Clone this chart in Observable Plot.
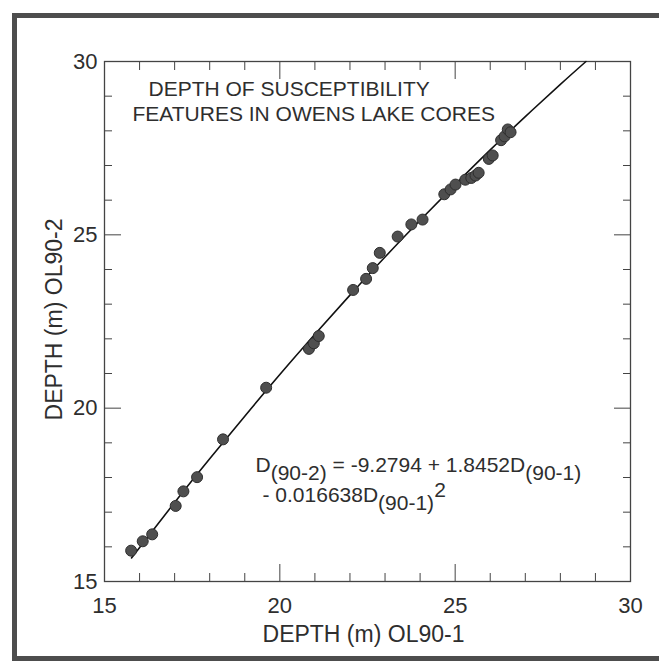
<!DOCTYPE html>
<html><head><meta charset="utf-8">
<script src="https://cdn.jsdelivr.net/npm/d3@7"></script>
<script src="https://cdn.jsdelivr.net/npm/@observablehq/plot@0.6"></script>
<style>
html,body{margin:0;padding:0;background:#fff;}
#wrap{position:relative;width:659px;height:671px;overflow:hidden;background:#fff;}
#chart{position:absolute;left:0;top:0;}
#border{position:absolute;left:12px;top:13px;width:700px;height:648px;border:5px solid #4d4d4d;box-sizing:border-box;pointer-events:none;}
</style></head><body><div id="wrap"><div id="chart"></div><div id="border"></div></div>
<script>
// Depth of susceptibility features: OL90-1 (x) vs OL90-2 (y), metres
const depth901 = [15.76,16.09,16.36,17.03,17.25,17.64,18.38,19.61,20.83,20.97,21.11,22.09,22.46,22.65,22.85,23.36,23.75,24.07,24.69,24.87,25.01,25.29,25.46,25.58,25.67,25.96,26.07,26.31,26.41,26.50,26.58];
const depth902 = [15.89,16.16,16.36,17.18,17.60,18.01,19.10,20.59,21.71,21.87,22.08,23.41,23.73,24.04,24.48,24.95,25.30,25.44,26.17,26.31,26.45,26.59,26.64,26.71,26.79,27.19,27.29,27.73,27.84,28.04,27.96];
// fitted curve
const fitX = [15.77,17,18,19,20,21,22,23,24,25,26,27,28,28.73];
const fitY = [15.68,17.28,18.54,19.77,20.97,22.13,23.26,24.36,25.42,26.45,27.45,28.41,29.34,30.00];
const majorTicks = [15,20,25,30];
const minorTicks = [16,17,18,19,21,22,23,24,26,27,28,29];
const titleLines = ["DEPTH OF SUSCEPTIBILITY","FEATURES IN OWENS LAKE CORES"];
const xTitle = "DEPTH (m) OL90-1";
const yTitle = "DEPTH (m) OL90-2";
const eqLine1 = [["D","base"],["(90-2)","sub"],[" = -9.2794 + 1.8452D","base"],["(90-1)","sub"]];
const eqLine2 = [["- 0.016638D","base"],["(90-1)","sub"],["2","sup"]];

const points = depth901.map((x,i)=>({x, y: depth902[i]}));
const fit = fitX.map((x,i)=>({x, y: fitY[i]}));
const ink = "#2e2e2e";
const axisInk = "#444";
const noLabel = () => "";

const plot = Plot.plot({
  width: 659, height: 671,
  marginLeft: 104, marginRight: 29, marginTop: 61, marginBottom: 90,
  x: {domain: [15,30]},
  y: {domain: [15,30]},
  style: {fontFamily: "'Liberation Sans', Arial, sans-serif", fontSize: "21px", color: ink, background: "transparent"},
  marks: [
    Plot.axisX(minorTicks, {anchor: "bottom", tickSize: -8, tickFormat: noLabel, label: null, stroke: axisInk}),
    Plot.axisX(majorTicks, {anchor: "bottom", tickSize: -17, tickFormat: noLabel, label: null, stroke: axisInk}),
    Plot.axisX(minorTicks, {anchor: "top", tickSize: -8, tickFormat: noLabel, label: null, stroke: axisInk}),
    Plot.axisX(majorTicks, {anchor: "top", tickSize: -17, tickFormat: noLabel, label: null, stroke: axisInk}),
    Plot.axisY(minorTicks, {anchor: "left", tickSize: -8, tickFormat: noLabel, label: null, stroke: axisInk}),
    Plot.axisY(majorTicks, {anchor: "left", tickSize: -17, tickFormat: noLabel, label: null, stroke: axisInk}),
    Plot.axisY(minorTicks, {anchor: "right", tickSize: -8, tickFormat: noLabel, label: null, stroke: axisInk}),
    Plot.axisY(majorTicks, {anchor: "right", tickSize: -17, tickFormat: noLabel, label: null, stroke: axisInk}),
    Plot.axisX(majorTicks, {anchor: "bottom", tickSize: 0, tickPadding: 16, label: null, fill: ink, fontSize: 22}),
    Plot.axisY(majorTicks, {anchor: "left", tickSize: 0, tickPadding: 7, label: null, fill: ink, fontSize: 22}),
    Plot.frame({stroke: axisInk, strokeWidth: 1.3}),
    Plot.line(fit, {x: "x", y: "y", curve: "natural", stroke: "#111", strokeWidth: 1.6}),
    Plot.dot(points, {x: "x", y: "y", r: 5.5, fill: "#4f4f4f", stroke: "#2e2e2e", strokeWidth: 1}),
    Plot.text([titleLines[0]], {frameAnchor: "top-left", dx: 44, dy: 34, textAnchor: "start", lineAnchor: "bottom", fill: ink}),
    Plot.text([titleLines[1]], {frameAnchor: "top-left", dx: 28, dy: 59, textAnchor: "start", lineAnchor: "bottom", fill: ink}),
    Plot.text([xTitle], {frameAnchor: "bottom", dx: -4, dy: 60, textAnchor: "middle", lineAnchor: "bottom", fill: ink, fontSize: 23}),
    Plot.text([yTitle], {frameAnchor: "left", dx: -43, dy: -2, rotate: -90, textAnchor: "middle", lineAnchor: "bottom", fill: ink, fontSize: 23}),
    Plot.text(["eq1"], {frameAnchor: "top-left", dx: 151, dy: 410, textAnchor: "start", lineAnchor: "bottom", fill: ink, className: "eq1"}),
    Plot.text(["eq2"], {frameAnchor: "top-left", dx: 158, dy: 440, textAnchor: "start", lineAnchor: "bottom", fill: ink, className: "eq2"})
  ]
});
document.getElementById("chart").appendChild(plot);

function fillEq(cls, parts) {
  const t = plot.querySelector("." + cls + " text");
  if (!t) return;
  t.textContent = "";
  let level = 0;
  const off = {base: 0, sub: 8, sup: -5};
  for (const [s, kind] of parts) {
    const ts = document.createElementNS("http://www.w3.org/2000/svg", "tspan");
    const target = off[kind];
    const dy = target - level;
    if (dy) ts.setAttribute("dy", dy);
    level = target;
    ts.textContent = s;
    t.appendChild(ts);
  }
}
fillEq("eq1", eqLine1);
fillEq("eq2", eqLine2);
</script></body></html>
